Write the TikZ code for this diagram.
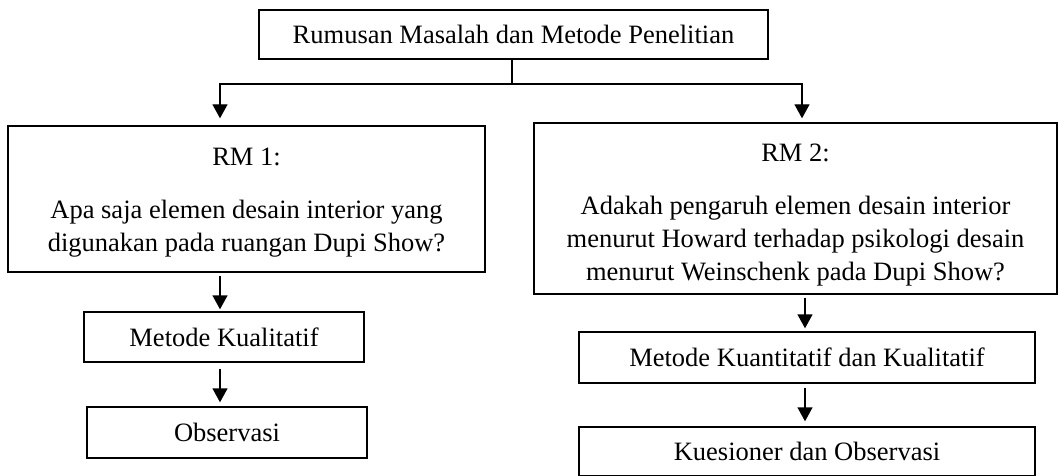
\documentclass[tikz,border=0pt]{standalone}
\usepackage{fontspec}
\setmainfont{Liberation Serif}
\usetikzlibrary{arrows.meta}
\tikzset{
  box/.style={draw=black, line width=1.4pt, inner sep=0pt, align=center,
    font=\fontsize{26.5}{33}\selectfont},
  link/.style={draw=black, line width=1.4pt},
  flow/.style={link, -{Triangle[width=15pt, length=14pt]}},
}

\begin{document}
\begin{tikzpicture}[x=1pt, y=-1pt]
\useasboundingbox (0,0) rectangle (1059,476);
\node[box, minimum width=509pt, minimum height=49pt] (top) at (513.500,34.500) {Rumusan Masalah dan Metode Penelitian};
\node[box, minimum width=477pt, minimum height=146pt] (rm1) at (246.500,199.000) {\rule{0pt}{25pt}RM 1:\\[20pt]Apa saja elemen desain interior yang\\digunakan pada ruangan Dupi Show?};
\node[box, minimum width=523pt, minimum height=171pt] (rm2) at (795.500,208.500) {\rule{0pt}{31pt}RM 2:\\[20pt]Adakah pengaruh elemen desain interior\\menurut Howard terhadap psikologi desain\\menurut Weinschenk pada Dupi Show?};
\node[box, minimum width=280pt, minimum height=50pt] (kual) at (224.000,337.000) {Metode Kualitatif};
\node[box, minimum width=280pt, minimum height=51pt] (obs) at (227.000,432.500) {Observasi};
\node[box, minimum width=456pt, minimum height=51pt] (kuan) at (807.000,357.500) {Metode Kuantitatif dan Kualitatif};
\node[box, minimum width=456pt, minimum height=49pt] (kues) at (807.000,451.500) {Kuesioner dan Observasi};
\coordinate (split) at (512.000,84.000);
\coordinate (left) at (220.000,84.000);
\coordinate (right) at (802.000,84.000);
\draw[link] (split |- top.south) -- (split);
\draw[flow, shorten >=7pt] (split) -- (left) -- (left |- rm1.north);
\draw[flow, shorten >=4pt] (split) -- (right) -- (right |- rm2.north);
\draw[flow, shorten <=3pt, shorten >=2pt] (rm1.south -| left) -- (kual.north -| left);
\draw[flow, shorten <=6pt, shorten >=4pt] (kual.south -| left) -- (obs.north -| left);
\draw[flow, shorten <=3pt, shorten >=3pt] (rm2.south -| 805,0) -- (kuan.north -| 805,0);
\draw[flow, shorten <=4pt, shorten >=5pt] (kuan.south -| 805,0) -- (kues.north -| 805,0);
\end{tikzpicture}
\end{document}
